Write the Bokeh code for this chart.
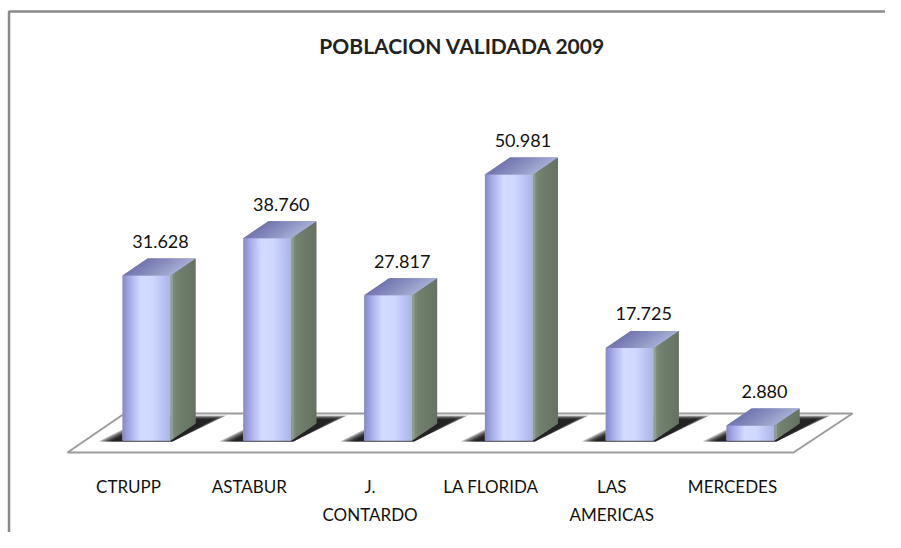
import numpy as np
from bokeh.plotting import figure
from bokeh.models import Range1d, Label, ColumnDataSource
from bokeh.core.properties import value
from bokeh.embed import file_html
from bokeh.resources import INLINE

# ---------------- data ----------------
categories = ["CTRUPP", "ASTABUR", "J.\nCONTARDO", "LA FLORIDA", "LAS\nAMERICAS", "MERCEDES"]
values = [31628, 38760, 27817, 50981, 17725, 2880]
title_text = "POBLACION VALIDADA 2009"

# ---------------- layout (pixels inside the figure) ----------------
W, H = 885, 532
X0_PX = 146.0          # centre of first bar front face
STEP_PX = 120.8        # distance between categories
BASE_PX = 440.0        # bar base, from top
PX_PER_UNIT = 5.22 / 1000.0
HALF_W_PX = 24.0       # half width of bar front face
DEPTH_X_PX, DEPTH_Y_PX = 25.0, 17.0

x_start = -X0_PX / STEP_PX
x_end = (W - X0_PX) / STEP_PX
y_start = -(H - BASE_PX) / PX_PER_UNIT
y_end = BASE_PX / PX_PER_UNIT


def dx(px):
    return px / STEP_PX


def dy(px):
    return px / PX_PER_UNIT


def X(px):
    return x_start + px / STEP_PX


def Y(px_top):
    return y_end - px_top / PX_PER_UNIT


def hexc(rgb):
    return "#%02x%02x%02x" % tuple(int(round(c)) for c in rgb)


def grad(stops, t):
    pos = [s[0] for s in stops]
    cols = [np.array([int(s[1][i:i + 2], 16) for i in (1, 3, 5)], float) for s in stops]
    for j in range(len(pos) - 1):
        if pos[j] <= t <= pos[j + 1]:
            f = (t - pos[j]) / (pos[j + 1] - pos[j])
            return hexc(cols[j] * (1 - f) + cols[j + 1] * f)
    return hexc(cols[-1])


FRONT = [(0.0, "#8488c8"), (0.12, "#a0a6e2"), (0.38, "#d3dbff"), (0.62, "#d0d8ff"),
         (0.88, "#b6bef2"), (1.0, "#aab6d6")]
SIDE = [(0.0, "#9aab98"), (0.18, "#74826f"), (1.0, "#657262")]
TOP = [(0.0, "#7276b0"), (0.5, "#8a90c0"), (1.0, "#a6aed2")]

p = figure(width=W, height=H, x_range=Range1d(x_start, x_end), y_range=Range1d(y_start, y_end),
           toolbar_location=None, output_backend="svg", x_axis_type=None, y_axis_type=None,
           min_border=0, background_fill_color="white", border_fill_color="white", title=None)
p.outline_line_color = None
p.grid.visible = False

# chart border (left and top only visible)
p.line([X(8.5), X(8.5), X(W)], [Y(H), Y(11), Y(11)], line_color="#8a8a8a", line_width=2.5)

# floor
n = len(values)
fx = [X(67), X(793), X(852), X(124)]
fy = [-dy(12), -dy(12), dy(27), dy(27)]
p.patch(fx, fy, fill_color="white", line_color="#9c9c9c", line_width=2)

# shadows (layered to look blurred)
sh_xs, sh_ys = [], []
for i in range(n):
    for k in range(6):
        g = k * 2.5
        sh_xs.append([i + dx(-48 + g), i + dx(26), i + dx(80 - g), i + dx(4 + g * 0.3)])
        sh_ys.append([dy(-1), dy(-1), dy(25 - g * 0.3), dy(25 - g * 0.3)])
p.patches(sh_xs, sh_ys, fill_color="black", fill_alpha=0.28, line_color=None)

hw = dx(HALF_W_PX)
DX, DY = dx(DEPTH_X_PX), dy(DEPTH_Y_PX)

# solid underlays (avoid seams)
idx = list(range(n))
p.quad(left=[i - hw for i in idx], right=[i + hw for i in idx], bottom=0, top=values,
       fill_color="#c4ccf8", line_color=None)
p.patches([[i + hw, i + hw + DX, i + hw + DX, i + hw] for i in idx],
          [[0, DY, v + DY, v] for v in values], fill_color="#6c7a69", line_color=None)
p.patches([[i - hw, i + hw, i + hw + DX, i - hw + DX] for i in idx],
          [[v, v, v + DY, v + DY] for v in values], fill_color="#8a90c0", line_color=None)

# front faces (vertical gradient strips)
NF = 28
fl, fr, ft, fc = [], [], [], []
for i, v in enumerate(values):
    sw = 2 * hw / NF
    for k in range(NF):
        fl.append(i - hw + k * sw)
        fr.append(min(i - hw + (k + 1) * sw + dx(1.0), i + hw))
        ft.append(v)
        fc.append(grad(FRONT, (k + 0.5) / NF))
p.quad(left=fl, right=fr, bottom=0, top=ft, fill_color=fc, line_color=None)

# side faces
NS = 10
s_xs, s_ys, s_c = [], [], []
for i, v in enumerate(values):
    for k in range(NS):
        t0, t1 = k / NS, min((k + 1) / NS + 0.05, 1.0)
        x0, x1 = i + hw + t0 * DX, i + hw + t1 * DX
        s_xs.append([x0, x1, x1, x0])
        s_ys.append([t0 * DY, t1 * DY, v + t1 * DY, v + t0 * DY])
        s_c.append(grad(SIDE, (k + 0.5) / NS))
p.patches(s_xs, s_ys, fill_color=s_c, line_color=None)

# top faces
NT = 16
t_xs, t_ys, t_c = [], [], []
for i, v in enumerate(values):
    for k in range(NT):
        s0, s1 = k / NT, min((k + 1) / NT + 0.03, 1.0)
        a0, a1 = i - hw + s0 * 2 * hw, i - hw + s1 * 2 * hw
        t_xs.append([a0, a1, a1 + DX, a0 + DX])
        t_ys.append([v, v, v + DY, v + DY])
        t_c.append(grad(TOP, (k + 0.5) / NT))
p.patches(t_xs, t_ys, fill_color=t_c, line_color=None)

# data labels
lab_src = ColumnDataSource(dict(
    x=[i + dx(14) for i in range(n)],
    y=[v + dy(34) for v in values],
    t=[f"{v:,}".replace(",", ".") for v in values]))
p.text(x="x", y="y", text="t", source=lab_src, text_align="center", text_baseline="alphabetic",
       text_font=value("Lato"), text_font_style="normal", text_font_size="18px",
       text_color="#111111")

# category labels
cat_src = ColumnDataSource(dict(x=[i + dx(-18) for i in range(n)],
                                y=[Y(475)] * n, t=categories))
p.text(x="x", y="y", text="t", source=cat_src, text_align="center", text_baseline="top",
       text_font=value("Lato"), text_font_style="normal", text_font_size="17px",
       text_color="#111111", text_line_height=1.35)

# title
p.add_layout(Label(x=X(462), y=Y(45), text=title_text, text_align="center", text_baseline="middle",
                   text_font="Lato", text_font_style="bold", text_font_size="21px",
                   text_color="#222222"))

open("out.html", "w").write(file_html(p, INLINE))
